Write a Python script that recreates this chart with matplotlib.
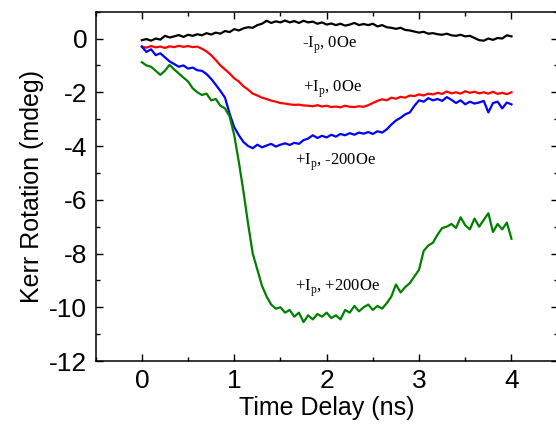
import numpy as np
import matplotlib
matplotlib.use('Agg')
from matplotlib import pyplot as plt
from matplotlib.ticker import MultipleLocator

# time delay (ns), sampled every 0.05 ns
time = np.linspace(0, 4, 81)

# Kerr rotation (mdeg)
k_minus_0 = [-0.06, -0.02, -0.08, 0.00, -0.04, 0.10, 0.04, 0.08, 0.13, 0.06,
             0.14, 0.10, 0.16, 0.12, 0.20, 0.15, 0.22, 0.18, 0.28, 0.24,
             0.35, 0.30, 0.38, 0.42, 0.40, 0.50, 0.55, 0.66, 0.58, 0.64,
             0.60, 0.67, 0.60, 0.65, 0.58, 0.66, 0.60, 0.63, 0.55, 0.60,
             0.52, 0.56, 0.50, 0.55, 0.48, 0.52, 0.58, 0.50, 0.54, 0.50,
             0.55, 0.45, 0.50, 0.42, 0.40, 0.36, 0.40, 0.32, 0.30, 0.26,
             0.22, 0.25, 0.18, 0.20, 0.16, 0.14, 0.18, 0.12, 0.10, 0.14,
             0.08, 0.10, 0.02, -0.06, -0.08, 0.00, -0.05, 0.02, 0.00, 0.12,
             0.08]
k_plus_0 = [-0.30, -0.34, -0.28, -0.33, -0.30, -0.35, -0.29, -0.32, -0.27, -0.31,
            -0.28, -0.32, -0.30, -0.38, -0.48, -0.62, -0.80, -1.00, -1.15, -1.30,
            -1.48, -1.60, -1.78, -1.90, -2.05, -2.12, -2.20, -2.25, -2.31, -2.35,
            -2.40, -2.42, -2.45, -2.47, -2.46, -2.49, -2.50, -2.52, -2.48, -2.53,
            -2.50, -2.55, -2.53, -2.56, -2.50, -2.54, -2.55, -2.52, -2.54, -2.48,
            -2.40, -2.32, -2.26, -2.30, -2.20, -2.24, -2.17, -2.20, -2.12, -2.14,
            -2.08, -2.12, -2.05, -2.08, -2.02, -2.06, -1.97, -2.04, -2.00, -2.05,
            -1.96, -2.02, -1.98, -2.04, -2.00, -2.05, -1.98, -2.06, -2.02, -2.07,
            -2.00]
k_plus_m200 = [-0.30, -0.50, -0.40, -0.62, -0.55, -0.70, -0.85, -0.95, -1.05, -1.00,
               -1.12, -1.08, -1.18, -1.20, -1.32, -1.50, -1.72, -1.95, -2.20, -2.80,
               -3.30, -3.60, -3.85, -4.00, -4.08, -3.95, -4.05, -3.98, -3.92, -4.02,
               -3.95, -3.90, -3.96, -3.88, -3.92, -3.78, -3.72, -3.60, -3.70, -3.62,
               -3.68, -3.58, -3.65, -3.55, -3.60, -3.52, -3.58, -3.50, -3.54, -3.48,
               -3.55, -3.45, -3.50, -3.38, -3.20, -3.05, -2.95, -2.82, -2.75, -2.50,
               -2.30, -2.35, -2.22, -2.30, -2.25, -2.32, -2.18, -2.28, -2.40, -2.30,
               -2.45, -2.35, -2.42, -2.38, -2.32, -2.75, -2.40, -2.35, -2.60, -2.38,
               -2.45]
k_plus_p200 = [-0.88, -1.00, -1.05, -1.20, -1.35, -1.20, -0.98, -1.15, -1.30, -1.45,
               -1.60, -1.85, -2.00, -2.10, -2.05, -2.30, -2.25, -2.50, -2.60, -2.90,
               -3.60, -4.60, -5.70, -6.90, -8.00, -8.60, -9.20, -9.60, -9.90, -10.05,
               -10.00, -10.20, -10.10, -10.35, -10.20, -10.55, -10.30, -10.45, -10.25, -10.35,
               -10.20, -10.40, -10.30, -10.45, -10.10, -10.20, -9.95, -10.15, -10.00, -9.90,
               -10.10, -9.95, -10.05, -9.85, -9.60, -9.15, -9.45, -9.25, -9.10, -8.85,
               -8.60, -7.90, -7.70, -7.60, -7.30, -7.05, -7.00, -6.90, -7.05, -6.65,
               -6.95, -7.10, -6.70, -7.00, -6.75, -6.50, -7.20, -6.90, -7.10, -6.85,
               -7.45]

labels = [r'-I$_\mathregular{p}$, 0Oe', r'+I$_\mathregular{p}$, 0Oe',
          r'+I$_\mathregular{p}$, -200Oe', r'+I$_\mathregular{p}$, +200Oe']
label_x = [1.73, 1.74, 1.66, 1.66]
label_y = [-0.36, -1.98, -4.72, -9.38]

plt.rcParams['font.family'] = ['Liberation Sans', 'DejaVu Sans']
plt.rcParams['axes.unicode_minus'] = False

fig = plt.figure(figsize=(5.56, 4.40), dpi=100)
ax = fig.add_axes([0.172, 0.1795, 0.831, 0.794])

ax.plot(time, k_minus_0, color='black', lw=1.6)
ax.plot(time, k_plus_0, color='#ff0000', lw=1.6)
ax.plot(time, k_plus_m200, color='#0000ff', lw=1.6)
ax.plot(time, k_plus_p200, color='#008000', lw=1.6)

for s, x, y in zip(labels, label_x, label_y):
    ax.text(x, y, s, family='Liberation Serif', fontsize=12, va='baseline')

ax.set_xlim(-0.5, 4.5)
ax.set_ylim(-12, 1)
ax.xaxis.set_major_locator(MultipleLocator(1))
ax.xaxis.set_minor_locator(MultipleLocator(0.5))
ax.yaxis.set_major_locator(MultipleLocator(2))
ax.yaxis.set_minor_locator(MultipleLocator(1))
ax.tick_params(which='both', direction='in', top=True, right=True, width=1)
ax.tick_params(which='major', length=5, labelsize=19, pad=6)
ax.tick_params(which='minor', length=3)
for sp in ax.spines.values():
    sp.set_linewidth(1.1)

ax.set_xlabel('Time Delay (ns)', fontsize=18, labelpad=2)
ax.set_ylabel('Kerr Rotation (mdeg)', fontsize=18, labelpad=4)

fig.savefig('out.png', dpi=100)
